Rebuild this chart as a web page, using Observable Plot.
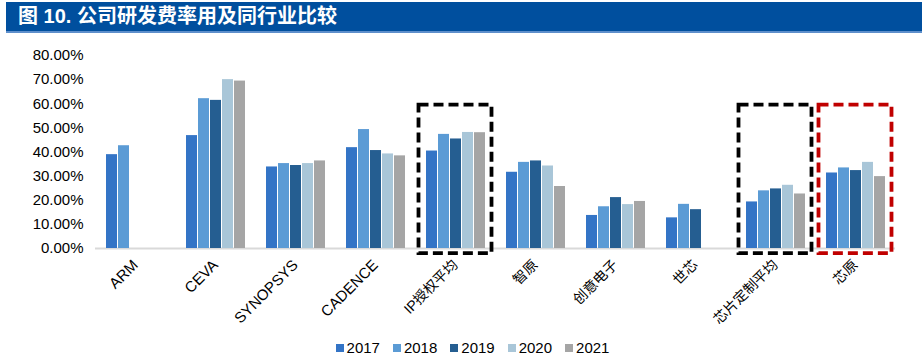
<!DOCTYPE html>
<html>
<head>
<meta charset="utf-8">
<script src="https://cdn.jsdelivr.net/npm/d3@7"></script>
<script src="https://cdn.jsdelivr.net/npm/@observablehq/plot@0.6"></script>
<style>
  html, body { margin: 0; padding: 0; background: #fff; }
  body { width: 922px; height: 357px; overflow: hidden; font-family: "Liberation Sans", Arial, "Noto Sans CJK SC", sans-serif; }
  #title {
    margin: 2px 0 0 6px; width: 916px; height: 29px; background: #004F9E;
    border-bottom: 2px solid #5E8FCB; box-sizing: content-box;
    color: #fff; font: bold 20px "Liberation Sans", "Noto Sans CJK SC", sans-serif;
    line-height: 29px; text-indent: 12px; white-space: nowrap;
  }
  #chart svg { display: block; overflow: visible; }
  #legend { display: flex; justify-content: center; padding-left: 36px; height: 16px; margin-top: -3px; }
  #legend, #legend * { font-size: 15px !important; line-height: 16px; }
  .lg-swatches-wrap { min-height: 0 !important; margin: 0 !important; }
  .lg-swatch { margin-right: 13px !important; }
  .lg-swatch svg { margin-right: 3px !important; }
</style>
</head>
<body>
<div id="title">图 10. 公司研发费率用及同行业比较</div>
<div id="chart"></div>
<div id="legend"></div>
<script>
const categories = ["ARM", "CEVA", "SYNOPSYS", "CADENCE", "IP授权平均", "智原", "创意电子", "世芯", "芯片定制平均", "芯原"];
const years = ["2017", "2018", "2019", "2020", "2021"];
const colors = ["#3374C6", "#5B9BD5", "#255E91", "#A9C6D8", "#A5A5A5"];
const v2017 = [38.9, 46.8, 33.8, 41.8, 40.4, 31.6, 13.7, 12.7, 19.3, 31.3];
const v2018 = [42.6, 62.1, 35.2, 49.3, 47.3, 35.7, 17.3, 18.3, 23.9, 33.4];
const v2019 = [null, 61.4, 34.4, 40.6, 45.4, 36.3, 21.1, 16.1, 24.7, 32.3];
const v2020 = [null, 70.0, 35.2, 39.2, 48.1, 34.2, 18.2, null, 26.2, 35.7];
const v2021 = [null, 69.4, 36.3, 38.4, 48.0, 25.7, 19.5, null, 22.6, 29.8];
const yTicks = [0, 10, 20, 30, 40, 50, 60, 70, 80];
const highlightCats = ["IP授权平均", "芯片定制平均", "芯原"];
const highlightColors = ["#000000", "#000000", "#C00000"];
const highlightTop = [59.4, 59.4, 59.4];
const highlightBottom = [-2.1, -2.1, -2.1];

const series = [v2017, v2018, v2019, v2020, v2021];
const data = [];
series.forEach((vals, j) => vals.forEach((v, i) => {
  if (v != null) data.push({cat: categories[i], year: years[j], value: v});
}));
const boxes = highlightCats.map((c, i) => ({cat: c, color: highlightColors[i], y1: highlightBottom[i], y2: highlightTop[i]}));
const hasCJK = s => /[\u4e00-\u9fff]/.test(s);

const chart = Plot.plot({
  width: 922,
  height: 310,
  marginLeft: 95,
  marginRight: 27,
  marginTop: 22,
  marginBottom: 95,
  style: {fontFamily: '"Liberation Sans", Arial, "Noto Sans CJK SC", sans-serif', fontSize: "15px", color: "#000", overflow: "visible"},
  fx: {domain: categories, paddingInner: 0.2, paddingOuter: 0.1, label: null},
  x: {domain: years, padding: 0.1, axis: null},
  y: {domain: [0, 80], label: null},
  color: {domain: years, range: colors},
  marks: [
    Plot.axisY({ticks: yTicks, tickFormat: d => d.toFixed(2) + "%", tickSize: 0, tickPadding: 20, label: null, fontSize: 15}),
    Plot.axisFx({anchor: "bottom", tickRotate: -45, tickSize: 0, tickPadding: 14, label: null, fontSize: d => hasCJK(d) ? 14 : 15}),
    Plot.ruleY([0], {stroke: "#D9D9D9", strokeWidth: 2, insetLeft: -8, insetRight: -8}),
    Plot.barY(data, {fx: "cat", x: "year", y: "value", fill: "year"}),
    Plot.rectY(boxes, {fx: "cat", y1: "y1", y2: "y2", fill: "none", stroke: "color", strokeWidth: 3.8, strokeDasharray: "10,5", insetLeft: -4.5, insetRight: -4.5})
  ]
});
document.getElementById("chart").appendChild(chart);

const lg = Plot.legend({
  color: {domain: years, range: colors, type: "ordinal"},
  legend: "swatches",
  swatchSize: 8,
  className: "lg",
  style: {fontFamily: '"Liberation Sans", Arial, sans-serif', fontSize: "15px", color: "#000"}
});
document.getElementById("legend").appendChild(lg);
</script>
</body>
</html>
